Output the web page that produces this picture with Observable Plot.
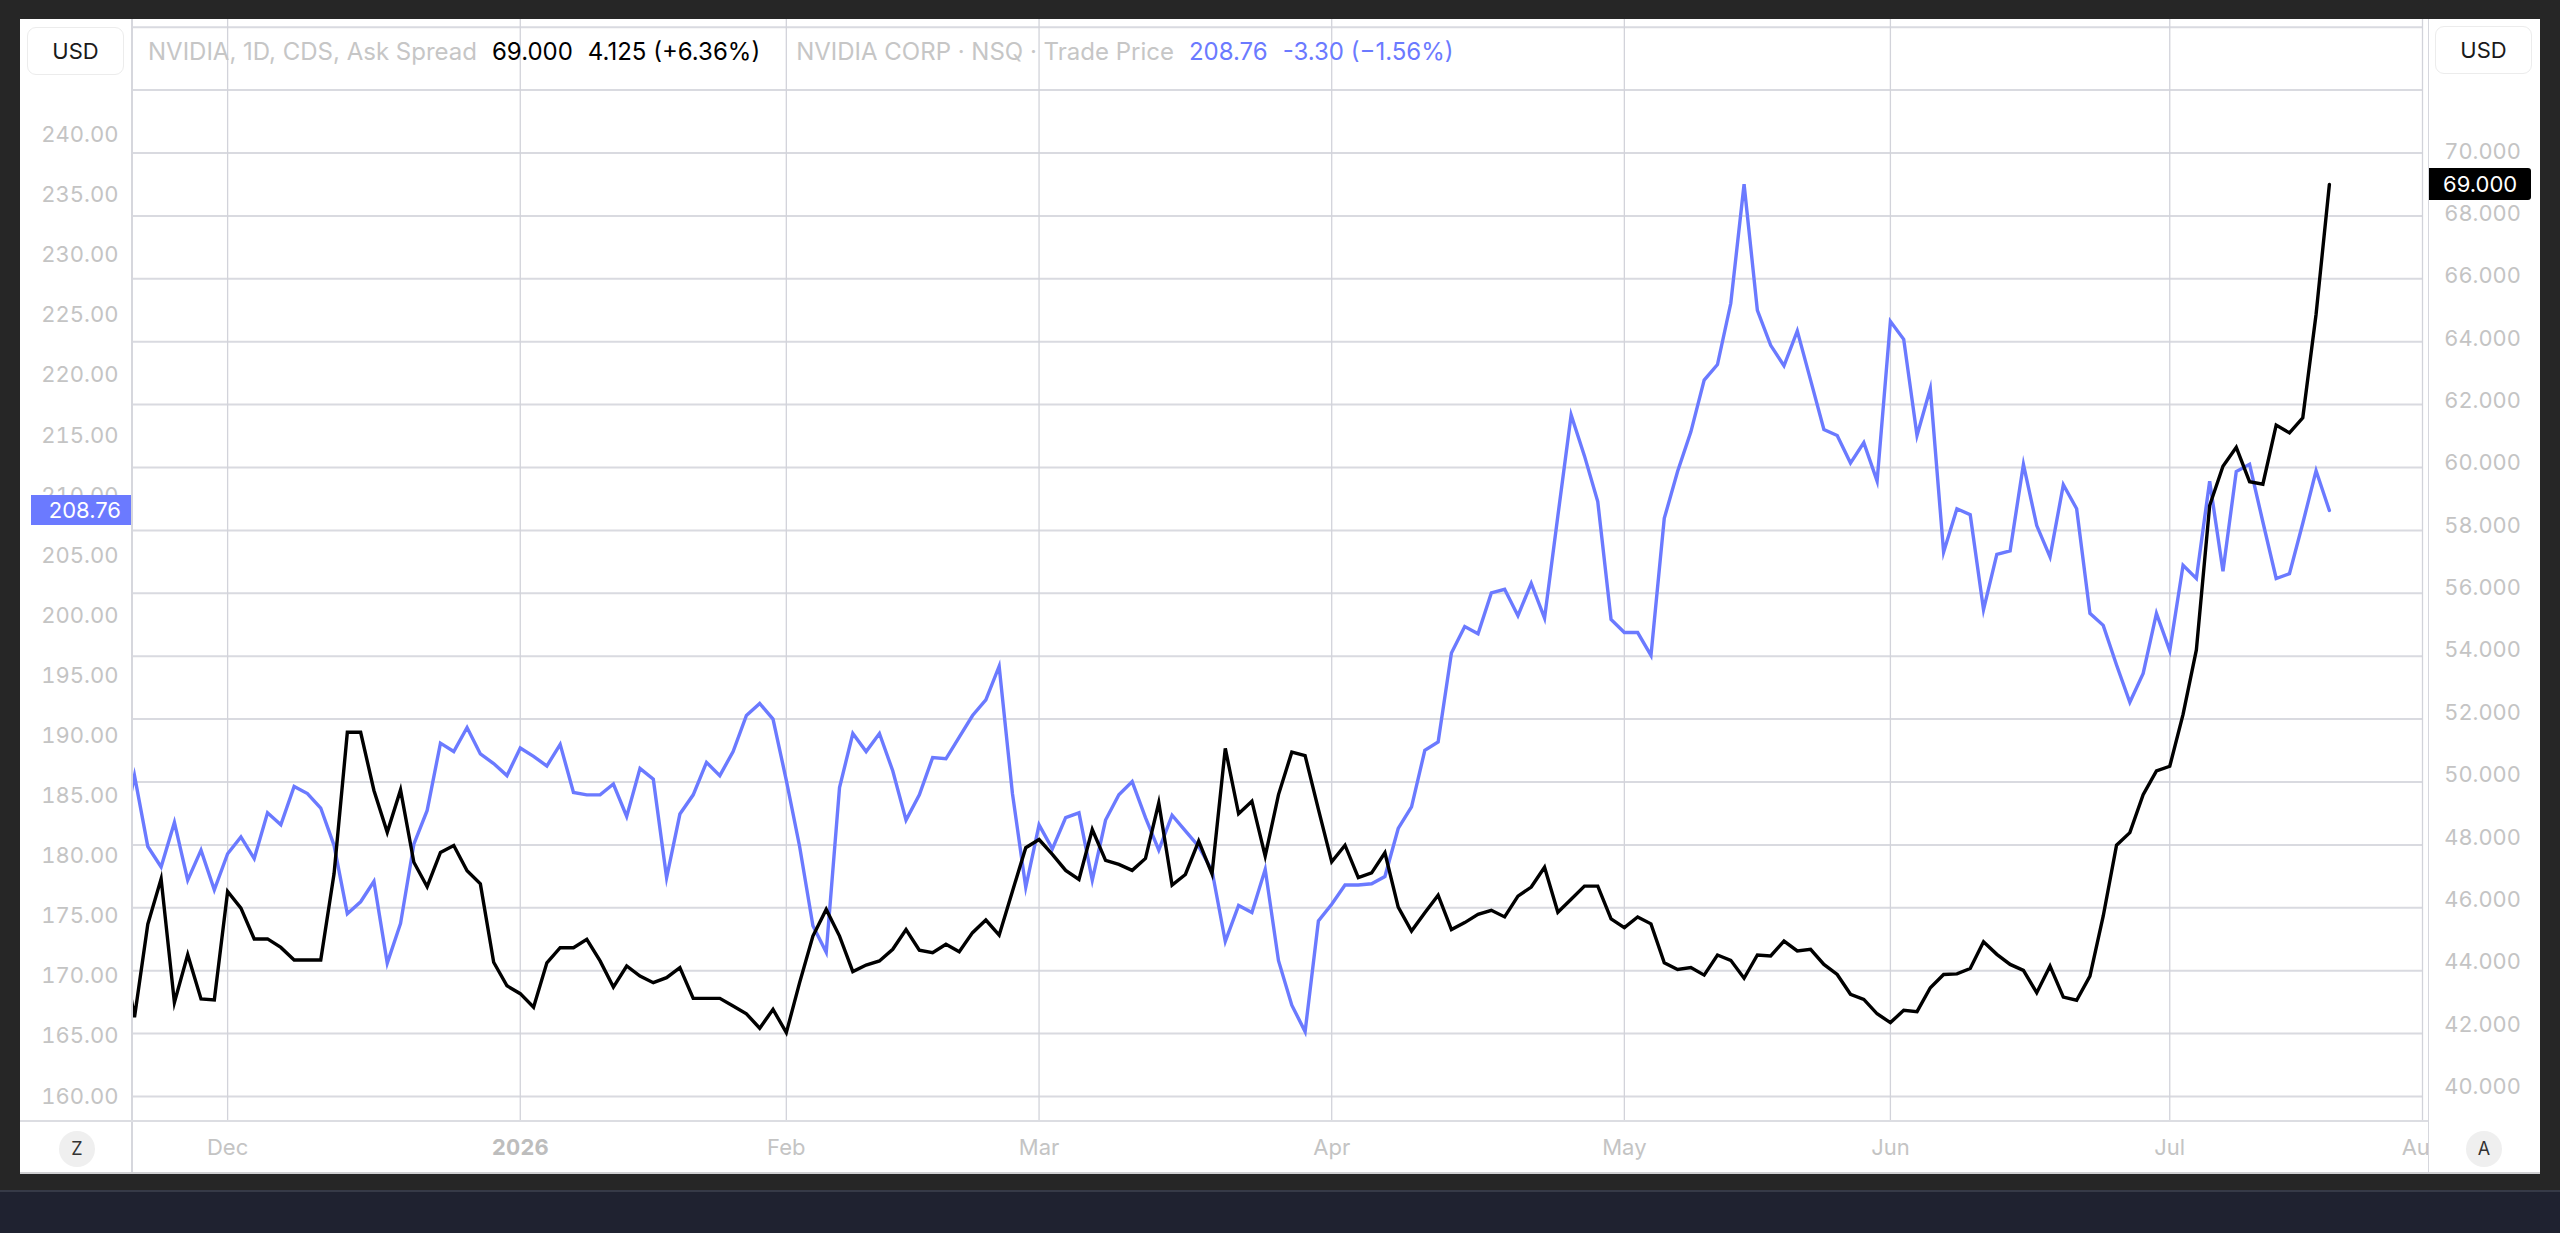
<!DOCTYPE html>
<html>
<head>
<meta charset="utf-8">
<script src="https://cdn.jsdelivr.net/npm/d3@7"></script>
<script src="https://cdn.jsdelivr.net/npm/@observablehq/plot@0.6"></script>
<style>
  html, body { margin: 0; padding: 0; background: #262626; width: 2560px; height: 1233px; overflow: hidden; font-family: Inter, "Noto Sans", sans-serif; }
  #panel { position: absolute; left: 20px; top: 19px; width: 2520px; height: 1153px; background: #fff; border-bottom: 2px solid #cfcfd2; }
  #bottombar { position: absolute; left: 0; top: 1190px; width: 2560px; height: 43px; background: #1f2230; border-top: 2px solid #363a47; }
  #main { position: absolute; left: 0; top: 0; }
  #right { position: absolute; left: 2408px; top: 0; width: 112px; height: 1153px; background: #fff; border-left: 1.5px solid #d6d7dd; box-sizing: border-box; }
  #right svg { position: absolute; left: -1.5px; top: 0; }
  .vsep { position: absolute; top: 0; width: 1.5px; height: 1153px; background: #d6d7dd; }
  .hsep { position: absolute; left: 0; width: 2520px; height: 2px; background: #dcdde2; }
  #header { position: absolute; left: 128px; top: 17px; height: 32px; line-height: 32px; font-size: 24px; white-space: nowrap; color: #c6c6c6; }
  #header span { margin-right: 15px; }
  .usd { position: absolute; width: 97px; height: 48px; border: 1.5px solid #ececec; border-radius: 9px; box-sizing: border-box; background: #fff; font-size: 22px; color: #1a1a1a; text-align: center; line-height: 46px; }
  .circ { position: absolute; width: 36px; height: 36px; border-radius: 18px; background: #efefef; color: #333; font-size: 18px; text-align: center; line-height: 36px; }
  .tag { position: absolute; height: 30px; line-height: 30px; font-size: 22px; color: #fff; box-sizing: border-box; }
</style>
</head>
<body>
<div id="panel">
  <div id="main"></div>
  <div class="vsep" style="left:111px"></div>
  <div class="hsep" style="top:1101px"></div>
  <div id="right"></div>
  <div id="header">
    <span>NVIDIA, 1D, CDS, Ask Spread</span><span style="color:#000">69.000</span><span style="color:#000;margin-right:36px">4.125 (+6.36%)</span><span>NVIDIA CORP · NSQ · Trade Price</span><span style="color:#6b7aff">208.76</span><span style="color:#6b7aff">-3.30 (−1.56%)</span>
  </div>
  <div class="usd" style="left:7px;top:8px">USD</div>
  <div class="usd" style="left:2415px;top:7px">USD</div>
  <div class="circ" style="left:39px;top:1112px">Z</div>
  <div class="circ" style="left:2446px;top:1112px">A</div>
</div>
<div id="bottombar"></div>
<script>
// ---------- data (trading-day index; index 0 is the point just left of the visible window) ----------
const spreadAsk = [
  44.90,
  42.52, 45.48, 46.92, 42.99, 44.51, 43.10, 43.07, 46.52, 45.99, 45.01,
  45.01, 44.74, 44.34, 44.34, 44.34, 47.08, 51.58, 51.58, 49.73, 48.40,
  49.75, 47.45, 46.67, 47.76, 47.98, 47.18, 46.76, 44.27, 43.52, 43.27,
  42.84, 44.25, 44.73, 44.73, 45.00, 44.31, 43.48, 44.15, 43.83, 43.62,
  43.78, 44.10, 43.12, 43.12, 43.12, 42.88, 42.63, 42.17, 42.77, 42.03,
  43.62, 45.10, 45.95, 45.10, 43.97, 44.18, 44.31, 44.68, 45.31, 44.65,
  44.57, 44.84, 44.60, 45.21, 45.61, 45.13, 46.53, 47.91, 48.17, 47.70,
  47.19, 46.90, 48.49, 47.51, 47.38, 47.19, 47.57, 49.34, 46.72, 47.06,
  48.12, 47.08, 51.07, 48.99, 49.39, 47.64, 49.60, 50.95, 50.84, 49.13,
  47.46, 47.99, 46.96, 47.11, 47.75, 46.02, 45.26, 45.84, 46.40, 45.31,
  45.53, 45.79, 45.92, 45.71, 46.37, 46.66, 47.29, 45.86, 46.27, 46.69,
  46.69, 45.65, 45.37, 45.71, 45.49, 44.25, 44.04, 44.10, 43.86, 44.50,
  44.33, 43.76, 44.50, 44.47, 44.94, 44.63, 44.68, 44.20, 43.88, 43.25,
  43.09, 42.63, 42.35, 42.74, 42.70, 43.46, 43.88, 43.90, 44.07, 44.92,
  44.52, 44.20, 44.01, 43.30, 44.15, 43.16, 43.06, 43.83, 45.74, 47.99,
  48.39, 49.60, 50.35, 50.50, 52.15, 54.20, 58.79, 60.04, 60.64, 59.55,
  59.47, 61.35, 61.10, 61.58, 64.875, 69.00
];
const tradePrice = [
  181.2,
  186.7, 180.8, 179.1, 182.8, 178.0, 180.5, 177.2, 180.2, 181.6, 179.8,
  183.6, 182.6, 185.8, 185.2, 184.0, 180.9, 175.2, 176.2, 177.9, 171.1,
  174.4, 181.0, 183.8, 189.4, 188.7, 190.7, 188.5, 187.7, 186.7, 189.0,
  188.3, 187.5, 189.3, 185.3, 185.1, 185.1, 186.0, 183.3, 187.3, 186.4,
  178.2, 183.5, 185.1, 187.8, 186.7, 188.7, 191.7, 192.7, 191.4, 186.3,
  180.8, 174.2, 172.0, 185.7, 190.2, 188.7, 190.2, 187.1, 183.0, 185.1,
  188.2, 188.1, 189.9, 191.7, 193.0, 195.8, 185.2, 177.4, 182.6, 180.6,
  183.2, 183.6, 178.0, 183.0, 185.1, 186.2, 183.2, 180.5, 183.4, 182.1,
  180.8, 178.8, 172.9, 175.9, 175.3, 178.9, 171.3, 167.6, 165.4, 174.6,
  176.0, 177.6, 177.6, 177.7, 178.3, 182.3, 184.1, 188.8, 189.5, 196.9,
  199.1, 198.5, 201.9, 202.2, 200.0, 202.7, 199.8, 208.3, 216.7, 213.3,
  209.5, 199.7, 198.6, 198.6, 196.7, 208.1, 212.0, 215.3, 219.6, 220.9,
  226.0, 235.9, 225.4, 222.5, 220.8, 223.7, 219.6, 215.5, 215.0, 212.7,
  214.4, 211.2, 224.5, 223.0, 215.0, 218.9, 205.3, 208.9, 208.4, 200.5,
  205.1, 205.4, 212.6, 207.5, 204.9, 210.9, 208.9, 200.2, 199.2, 195.9,
  192.8, 195.2, 200.2, 197.1, 204.2, 203.1, 211.2, 203.7, 212.0, 212.6,
  207.8, 203.1, 203.5, 207.7, 212.06, 208.76
];
// month ticks (trading-day index of the first session of each month)
const monthLabels = ["Dec", "2026", "Feb", "Mar", "Apr", "May", "Jun", "Jul", "Aug"];
const monthIndex  = [8, 30, 50, 69, 91, 113, 133, 154, 173];
// axis ticks
const leftTicks  = d3.range(160, 240.001, 5);     // Trade Price axis
const rightTicks = d3.range(40, 70.001, 2);       // Ask Spread axis (labels)
const rightGrid  = d3.range(40, 74.001, 2);       // horizontal grid lines
const lastSpread = 69.000, lastPrice = 208.76;

// ---------- dual axis alignment: 160 ↔ 40; 80 price units span the height of 30.57 spread units ----------
const K = 0.38216;
const toRight = v => 40 + (v - 160) * K;
const fromRight = r => 160 + (r - 40) / K;

const rows = spreadAsk.map((s, i) => ({i, spread: s, price: tradePrice[i]}));
const labelOf = new Map(monthIndex.map((v, k) => [v, monthLabels[k]]));
const yDomain = [39.237, 74.245];
const W = 2408, H = 1153;
const font = "Inter, 'Noto Sans', sans-serif";

const main = Plot.plot({
  width: W, height: H,
  marginLeft: 111, marginRight: 6, marginTop: 0, marginBottom: 52,
  style: {fontFamily: font, background: "transparent", overflow: "hidden"},
  x: {type: "linear", domain: [0.774, 173], axis: null, label: null},
  y: {domain: yDomain, axis: null, label: null},
  marks: [
    Plot.gridY(rightGrid, {stroke: "#d9dae0", strokeOpacity: 1, strokeWidth: 2}),
    Plot.gridX(monthIndex, {stroke: "#d2d3da", strokeOpacity: 1, strokeWidth: 1.3}),
    Plot.axisY(leftTicks.map(toRight), {
      anchor: "left", tickSize: 0, tickPadding: 13, label: null,
      tickFormat: d => fromRight(d).toFixed(2),
      fontSize: 22, fill: "#c4c4c4"
    }),
    Plot.axisX(monthIndex.filter(v => labelOf.get(v) !== "2026"), {
      anchor: "bottom", tickSize: 0, tickPadding: 19, label: null,
      tickFormat: d => labelOf.get(d), fontSize: 22, fill: "#c4c4c4"
    }),
    Plot.axisX(monthIndex.filter(v => labelOf.get(v) === "2026"), {
      anchor: "bottom", tickSize: 0, tickPadding: 19, label: null,
      tickFormat: d => labelOf.get(d), fontSize: 22, fontWeight: "bold", fill: "#bdbdbd"
    }),
    Plot.lineY(rows, {x: "i", y: d => toRight(d.price), stroke: "#6b7aff", strokeWidth: 3.4, strokeLinejoin: "miter", strokeMiterlimit: 6, clip: true}),
    Plot.lineY(rows, {x: "i", y: "spread", stroke: "#000", strokeWidth: 3.4, strokeLinejoin: "miter", strokeMiterlimit: 6, clip: true})
  ]
});
document.getElementById("main").appendChild(main);

const right = Plot.plot({
  width: 112, height: H,
  marginLeft: 0, marginRight: 110, marginTop: 0, marginBottom: 52,
  style: {fontFamily: font, background: "transparent", overflow: "visible"},
  x: {domain: [0, 1], axis: null, label: null},
  y: {domain: yDomain, axis: null, label: null},
  marks: [
    Plot.axisY(rightTicks, {
      anchor: "right", tickSize: 0, tickPadding: 14, label: null,
      tickFormat: d => d.toFixed(3), fontSize: 22, fill: "#c4c4c4"
    })
  ]
});
document.getElementById("right").appendChild(right);

// last-value tags, positioned with the charts' own scales
const panel = document.getElementById("panel");
const yMain = main.scale("y"), yRight = right.scale("y");
const tagL = document.createElement("div");
tagL.className = "tag";
tagL.textContent = lastPrice.toFixed(2);
Object.assign(tagL.style, {left: "11px", width: "100px", background: "#6b7aff", textAlign: "right", paddingRight: "10px",
  top: (yMain.apply(toRight(lastPrice)) - 15) + "px"});
panel.appendChild(tagL);
const tagR = document.createElement("div");
tagR.className = "tag";
tagR.textContent = lastSpread.toFixed(3);
Object.assign(tagR.style, {left: "2409px", width: "102px", height: "32px", lineHeight: "32px", background: "#000", paddingLeft: "14px", borderRadius: "0 3px 3px 0",
  top: (yRight.apply(lastSpread) - 16) + "px"});
panel.appendChild(tagR);
</script>
</body>
</html>
